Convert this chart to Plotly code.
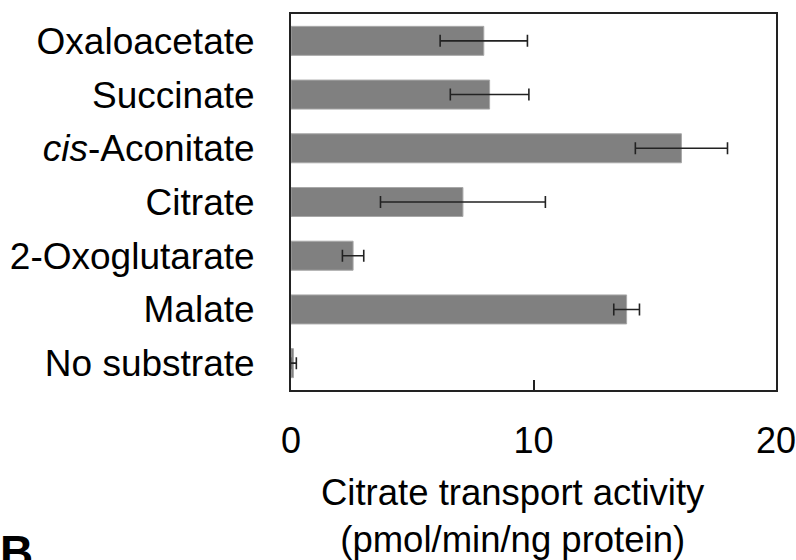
import plotly.graph_objects as go

categories = ["Oxaloacetate", "Succinate", "<i>cis</i>-Aconitate", "Citrate",
              "2-Oxoglutarate", "Malate", "No substrate"]
activity = [7.95, 8.19, 16.1, 7.09, 2.56, 13.84, 0.1]
errors = [1.8, 1.62, 1.9, 3.4, 0.44, 0.53, 0.12]
x_ticks = [0, 10, 20]

FONT = "Liberation Sans, Arial, sans-serif"
L, R, T, B = 290.7, 20, 14, 170
W, H = 796, 560
pw = W - L - R
ph = H - T - B

fig = go.Figure()
fig.add_trace(go.Bar(
    y=categories, x=activity, orientation="h",
    width=0.54,
    marker=dict(color="#808080", line=dict(color="#a8a8a8", width=1)),
    error_x=dict(type="data", array=errors, visible=True,
                 color="#222222", thickness=1.6, width=6),
))

fig.update_layout(
    width=W, height=H,
    margin=dict(l=L, r=R, t=T, b=B, pad=0, autoexpand=False),
    paper_bgcolor="white", plot_bgcolor="white",
    showlegend=False,
    font=dict(family=FONT, color="black"),
    xaxis=dict(
        range=[0, 20], tickvals=x_ticks, ticktext=[str(v) for v in x_ticks],
        ticks="inside", ticklen=10, tickwidth=1.5, tickcolor="#222222",
        showgrid=False, zeroline=False, automargin=False,
        ticklabeloverflow="allow",
        showline=True, linecolor="#222222", linewidth=2, mirror=True,
        tickfont=dict(size=36, family=FONT, color="black"),
        ticklabelstandoff=18,
    ),
    yaxis=dict(
        categoryorder="array", categoryarray=categories,
        range=[6.5, -0.5], automargin=False,
        ticklabeloverflow="allow",
        ticks="", showgrid=False, zeroline=False,
        showline=True, linecolor="#222222", linewidth=2, mirror=True,
        tickfont=dict(size=37, family=FONT, color="black"),
        ticklabelstandoff=27,
    ),
    annotations=[
        dict(text="Citrate transport activity<br>(pmol/min/ng protein)",
             xref="paper", yref="paper",
             x=(513 - L) / pw, y=(H - B - 470) / ph,
             xanchor="center", yanchor="top", showarrow=False,
             font=dict(size=36.5, family=FONT, color="black")),
        dict(text="<b>B</b>", xref="paper", yref="paper",
             x=(-2 - L) / pw, y=(H - B - 524) / ph,
             xanchor="left", yanchor="top", showarrow=False,
             font=dict(size=46, family=FONT, color="black")),
    ],
)

fig.write_html("out.html")
